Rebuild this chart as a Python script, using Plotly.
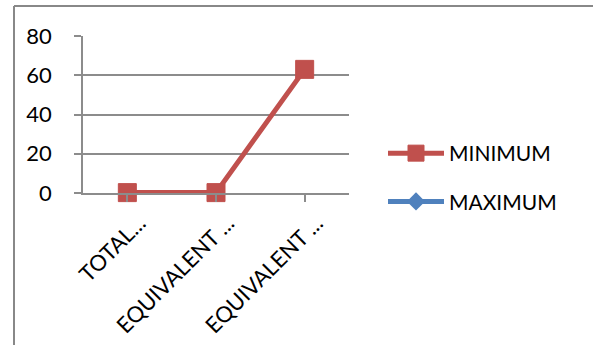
import plotly.graph_objects as go

categories = ["TOTAL...", "EQUIVALENT ...", "EQUIVALENT ..."]
minimum = [0.2, 0.2, 63.0]
maximum = [None, None, None]
y_ticks = [0, 20, 40, 60, 80]

RED = "#C0504D"
BLUE = "#4F81BD"
GRID = "#8C8C8C"
FONT = "Lato, Calibri, sans-serif"

W, H = 593, 345
L, R, T, B = 83, 349, 36, 193

fig = go.Figure()
fig.add_trace(go.Scatter(
    x=[0, 1, 2], y=minimum, name="MINIMUM", mode="lines+markers",
    line=dict(color=RED, width=5), cliponaxis=False,
    marker=dict(symbol="square", size=18, color=RED, line=dict(color=RED, width=1)),
    legendgroup="a",
))
fig.add_trace(go.Scatter(
    x=[0, 1, 2], y=maximum, name="MAXIMUM", mode="lines+markers",
    line=dict(color=BLUE, width=5), cliponaxis=False,
    marker=dict(symbol="diamond", size=14, color=BLUE),
    legendgroup="b",
))

pw = R - L
ph = B - T

def px_x(x):
    return (x - L) / pw

def px_y(y):
    return (B - y) / ph

fig.add_shape(type="line", xref="paper", yref="paper",
              x0=px_x(14), x1=px_x(14), y0=px_y(6), y1=px_y(360),
              line=dict(color="#888888", width=2))
fig.add_shape(type="line", xref="paper", yref="paper",
              x0=px_x(14), x1=px_x(600), y0=px_y(6), y1=px_y(6),
              line=dict(color="#888888", width=2))

fig.update_layout(
    width=W, height=H,
    margin=dict(l=L, r=W - R, t=T, b=H - B, pad=0, autoexpand=False),
    paper_bgcolor="white", plot_bgcolor="white",
    font=dict(family=FONT, size=21, color="#000000"),
    showlegend=True,
    legend=dict(x=px_x(383), y=px_y(133), xanchor="left", yanchor="top",
                traceorder="grouped", tracegroupgap=18,
                font=dict(family=FONT, size=21, color="#000000"),
                bgcolor="rgba(0,0,0,0)", itemwidth=56),
    xaxis=dict(
        tickmode="array", tickvals=[0, 1, 2], ticktext=categories,
        range=[-0.5, 2.5], tickangle=-45, automargin=False,
        showgrid=False, showline=True, linecolor=GRID, linewidth=1.5,
        ticks="outside", ticklen=7, tickcolor=GRID, tickwidth=1.5,
        tickson="boundaries", zeroline=False, ticklabelshift=12,
        tickfont=dict(family=FONT, size=22),
    ),
    yaxis=dict(
        range=[0, 80], tickvals=y_ticks, automargin=False,
        showgrid=True, gridcolor=GRID, gridwidth=1.5,
        showline=True, linecolor=GRID, linewidth=1.5,
        ticks="outside", ticklen=7, tickcolor=GRID, tickwidth=1.5,
        zeroline=False, ticklabelstandoff=18,
        tickfont=dict(family=FONT, size=22),
    ),
)

fig.write_html("out.html")
